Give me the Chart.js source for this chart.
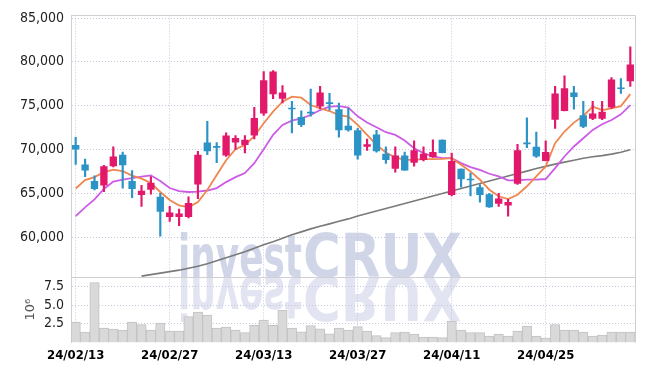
<!DOCTYPE html>
<html><head><meta charset="utf-8">
<script src="https://cdn.jsdelivr.net/npm/chart.js@4.4.1/dist/chart.umd.min.js"></script>
<style>html,body{margin:0;padding:0;background:#fff;}#wrap{width:645px;height:368px;}</style>
</head><body><div id="wrap"><canvas id="c" width="645" height="368"></canvas></div>
<script>
const dates = ['24/02/13','24/02/14','24/02/15','24/02/16','24/02/19','24/02/20','24/02/21','24/02/22','24/02/23','24/02/26',
 '24/02/27','24/02/28','24/02/29','24/03/04','24/03/05','24/03/06','24/03/07','24/03/08','24/03/11','24/03/12',
 '24/03/13','24/03/14','24/03/15','24/03/18','24/03/19','24/03/20','24/03/21','24/03/22','24/03/25','24/03/26',
 '24/03/27','24/03/28','24/03/29','24/04/01','24/04/02','24/04/03','24/04/04','24/04/05','24/04/08','24/04/09',
 '24/04/11','24/04/12','24/04/15','24/04/16','24/04/17','24/04/18','24/04/19','24/04/22','24/04/23','24/04/24',
 '24/04/25','24/04/26','24/04/29','24/04/30','24/05/02','24/05/03','24/05/07','24/05/08','24/05/09','24/05/10'];
const dateTicks = ['24/02/13','24/02/27','24/03/13','24/03/27','24/04/11','24/04/25'];
const opens  = [70500,68300,66400,65900,68100,69400,66400,64800,65400,64600,
 62300,62300,62300,66000,70800,70400,69300,70800,70500,71600,
 74100,76300,75800,74700,73700,74300,74900,75400,74600,72700,
 72200,70300,71700,69500,67800,69300,68500,68800,69100,71100,
 64800,67800,66600,65700,64900,63800,63600,66100,70800,70300,
 68700,73400,74400,76500,73900,73500,73500,74800,77000,77800];
const highs  = [71400,68900,67000,68200,70300,69700,67600,65900,66900,65000,
 63500,63200,64600,69800,73200,70800,71900,71600,71600,74800,
 78900,79000,77300,75500,74400,76900,77200,76400,75300,74700,
 72400,71200,72200,70300,70300,69700,71000,70300,71100,71100,
 69600,67800,67300,66000,65000,65000,64300,70600,73600,72000,
 71000,77200,78400,77200,75500,75500,75500,78200,78100,81700];
const lows   = [68300,66900,65400,65200,68000,65600,64500,63500,64900,60100,
 61800,61300,62200,64400,69400,68500,69200,70000,69600,71200,
 73900,75800,75300,71900,72600,73800,74700,74500,71400,72100,
 68900,69900,69700,68400,67400,67600,68100,68700,69100,69600,
 64700,65700,64700,64000,63400,63500,62400,66000,70200,69100,
 68700,72400,74400,74600,72500,73400,73400,74700,76400,77200];
const closes = [70000,67600,65500,68100,69200,68200,65500,65300,66200,62900,
 62800,62700,63900,69400,69800,70200,71600,71300,71100,73600,
 77900,78900,76500,74600,72800,74100,76500,75200,72200,72200,
 69300,70600,69800,68800,69300,67600,69900,69500,69700,69600,
 68700,66600,66500,64800,63400,64400,64000,69900,70600,69200,
 69700,76400,77000,76000,72600,74100,74300,78000,76900,79700];
const volumes = [2.73,1.39,7.99,1.93,1.79,1.66,2.73,2.37,1.66,2.60,
 1.52,1.52,3.44,4.07,3.67,1.93,2.06,1.66,1.30,2.28,
 3.00,2.28,4.34,1.93,1.43,2.24,1.83,1.16,1.93,1.66,
 2.10,1.52,0.90,0.63,1.30,1.39,1.12,0.72,0.72,0.63,
 2.86,1.66,1.30,1.30,0.85,1.12,0.85,1.52,2.19,0.85,
 0.58,2.37,1.66,1.66,1.39,0.85,0.99,1.39,1.39,1.39];
const ma5 = [65550,66510,66850,67420,67700,67530,67020,66680,66170,65150,
 64240,63610,63410,64010,65370,67080,68780,70030,70520,71510,
 72990,74320,75450,76020,75910,75070,74690,74390,73930,73750,
 72800,71660,70520,69660,69090,68820,68820,68900,68900,68930,
 69010,68250,67500,66550,65410,64660,64350,64840,65800,66930,
 68070,70720,72050,73070,73820,74890,74500,74690,74950,76320];
const ma20 = [62390,63390,64300,65490,66340,66570,66740,66910,67050,66400,
 65600,65260,65150,65200,65320,65600,66280,66850,67310,68440,
 70030,71680,72800,73300,73560,73930,74500,74890,74950,74770,
 73780,73070,72530,71970,71660,71020,70150,69580,69200,69010,
 69010,68440,67990,67680,67230,66930,66480,66480,66550,66550,
 66630,67880,69200,70340,71280,72230,72880,73360,74010,75070];
const ma120 = [null,null,null,null,null,null,null,55550,55720,55890,
 56060,56230,56450,56680,56970,57310,57650,57990,58330,58730,
 59120,59470,59860,60260,60600,60940,61230,61510,61800,62080,
 62420,62700,62990,63270,63560,63840,64120,64410,64690,64980,
 65260,65550,65830,66110,66400,66680,66970,67250,67530,67820,
 68070,68330,68560,68780,69010,69180,69300,69470,69690,69980];
const priceTicks = [60000,65000,70000,75000,80000,85000];
const volumeTicks = [2.5,5.0,7.5];

const UP = '#e2186b', DOWN = '#2b93c6';
const candleColors = opens.map((o,i)=> closes[i] >= o ? UP : DOWN);
const bodies = opens.map((o,i)=> [Math.min(o,closes[i]), Math.max(o,closes[i])]);
const wicks = lows.map((l,i)=> [l, highs[i]]);

const GRID = '#c6c6dc';
const tickFont = {family:'"DejaVu Sans Condensed","Liberation Sans Narrow",Arial,sans-serif', size:14};

const watermark = {
  id:'watermark',
  beforeDraw(chart){
    const ctx = chart.ctx, base = chart.scales.y.bottom;
    const drawText = (color)=>{
      ctx.fillStyle = color;
      ctx.textBaseline = 'alphabetic';
      ctx.font = 'bold 58px "DejaVu Sans", sans-serif';
      let w = ctx.measureText('invest').width;
      ctx.save(); ctx.translate(178, base); ctx.scale(124/w, 1); ctx.fillText('invest', 0, 0); ctx.restore();
      ctx.font = 'bold 60px "DejaVu Sans", sans-serif';
      w = ctx.measureText('CRUX').width;
      ctx.save(); ctx.translate(303, base); ctx.scale(159/w, 1); ctx.fillText('CRUX', 0, 0); ctx.restore();
    };
    ctx.save();
    drawText('#d0d5e8');
    ctx.beginPath(); ctx.rect(0, base, chart.width, 45); ctx.clip();
    ctx.translate(0, 2*base); ctx.scale(1, -1);
    drawText('#e2e5f1');
    ctx.restore();
  }
};
const frame = {
  id:'frame',
  beforeDatasetsDraw(chart){
    const {ctx, chartArea:a} = chart, sep = chart.scales.y.bottom;
    ctx.save(); ctx.strokeStyle = '#cfcfd4'; ctx.lineWidth = 1;
    ctx.beginPath();
    ctx.moveTo(a.left, Math.round(a.top)+0.5); ctx.lineTo(a.right, Math.round(a.top)+0.5);
    ctx.moveTo(Math.round(a.right)+0.5, a.top); ctx.lineTo(Math.round(a.right)+0.5, a.bottom);
    ctx.moveTo(a.left, Math.round(sep)+0.5); ctx.lineTo(a.right, Math.round(sep)+0.5);
    ctx.stroke(); ctx.restore();
  }
};

new Chart(document.getElementById('c'), {
  data: {
    labels: dates,
    datasets: [
      {type:'bar', label:'body', data:bodies, yAxisID:'y', backgroundColor:candleColors, grouped:false,
       barPercentage:0.78, categoryPercentage:1, minBarLength:1.5, order:1},
      {type:'bar', label:'wick', data:wicks, yAxisID:'y', backgroundColor:candleColors, grouped:false,
       barThickness:1.5, order:2},
      {type:'line', label:'MA5', data:ma5, yAxisID:'y', borderColor:'#ef8650', borderWidth:1.8, pointRadius:0, order:4},
      {type:'line', label:'MA20', data:ma20, yAxisID:'y', borderColor:'#cc5be6', borderWidth:1.8, pointRadius:0, order:5},
      {type:'line', label:'MA120', data:ma120, yAxisID:'y', borderColor:'#7a7a7a', borderWidth:1.6, pointRadius:0, order:6},
      {type:'bar', label:'volume', data:volumes, yAxisID:'yv', backgroundColor:'#d9d9d9', borderColor:'#c2c2c2', borderWidth:1,
       grouped:false, barPercentage:1, categoryPercentage:1, order:10}
    ]
  },
  options: {
    responsive:false, animation:false, devicePixelRatio:1,
    layout:{padding:{left:0, right:10, top:4, bottom:0}},
    plugins:{legend:{display:false}, tooltip:{enabled:false}},
    scales:{
      x:{type:'category', offset:true,
         grid:{offset:false, color:GRID, drawTicks:false},
         border:{display:false, dash:[1,2]},
         ticks:{autoSkip:false, maxRotation:0, padding:5, color:'#000', font:{...tickFont, size:13, weight:'bold'},
           callback:function(v){ const l = this.getLabelForValue(v); return dateTicks.includes(l) ? l : null; }}},
      yv:{type:'linear', position:'left', stack:'panes', stackWeight:1, min:0, max:8.75,
         afterBuildTicks:s=>{ s.ticks = volumeTicks.map(v=>({value:v})); },
         afterFit:s=>{ s.width = 71; },
         grid:{color:GRID, drawTicks:false},
         border:{display:true, color:'#cfcfd4', dash:[1,2]},
         title:{display:true, text:'10⁶', color:'#555', font:{family:'"DejaVu Sans",sans-serif', size:13}, padding:{top:23,bottom:0}},
         ticks:{autoSkip:false, padding:7, color:'#222', font:tickFont, callback:v=>v.toFixed(1)}},
      y:{type:'linear', position:'left', stack:'panes', stackWeight:4, min:55450, max:85300,
         afterBuildTicks:s=>{ s.ticks = priceTicks.map(v=>({value:v})); },
         afterFit:s=>{ s.width = 71; },
         grid:{color:GRID, drawTicks:false},
         border:{display:true, color:'#cfcfd4', dash:[1,2]},
         ticks:{autoSkip:false, padding:7, color:'#222', font:tickFont, callback:v=>v.toLocaleString('en-US')}}
    }
  },
  plugins:[watermark, frame]
});
</script></body></html>
